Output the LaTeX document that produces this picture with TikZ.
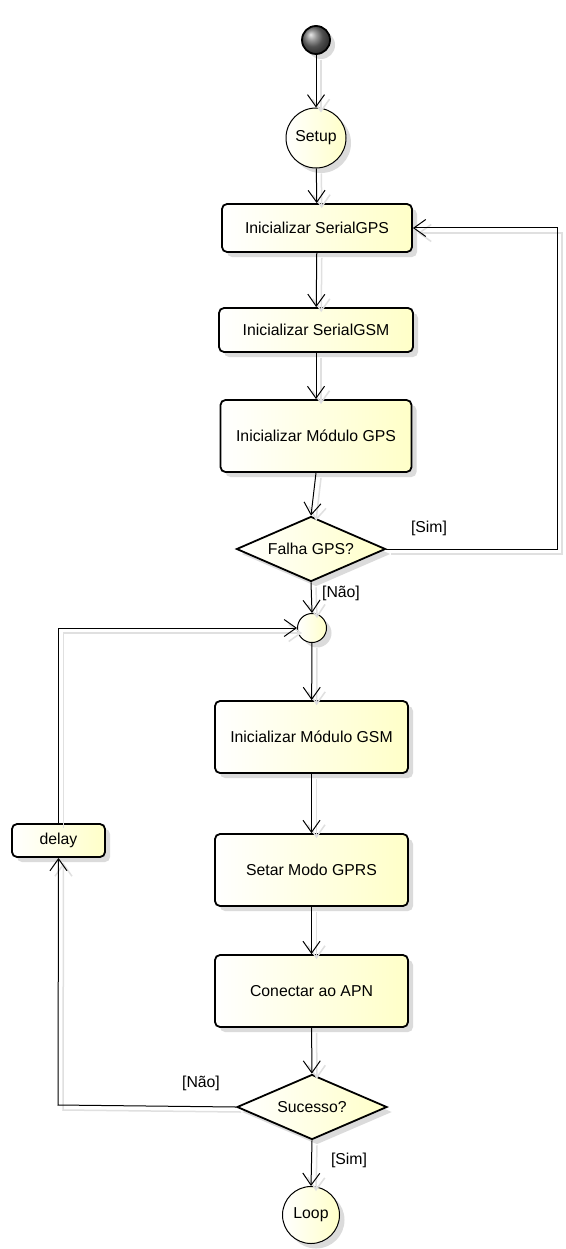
\documentclass[tikz,border=0pt]{standalone}
\usepackage{fontspec}
\setmainfont{Liberation Sans}
\usetikzlibrary{shapes.geometric,arrows.meta,shadows}
\definecolor{boxy}{RGB}{255,255,200}
\begin{document}
\begin{tikzpicture}[x=1pt,y=-1pt,
  font=\fontsize{15.8}{18}\selectfont,
  shad/.style={drop shadow={shadow xshift=5pt,shadow yshift=-5pt,fill=black!14,opacity=1}},
  filled/.style={left color=white,right color=boxy,draw=black,shad},
  act/.style={filled,rectangle,rounded corners=5pt,line width=1.8pt,inner sep=0pt},
  circ/.style={filled,circle,line width=1pt,inner sep=0pt},
  dec/.style={filled,diamond,aspect=2.3,line width=1.8pt,inner sep=0pt},
  conn/.style={line width=1pt,-{Straight Barb[length=12pt,width=17pt]},
    preaction={draw=black!12,line width=1.5pt,transform canvas={shift={(5pt,-5pt)}}}},
  lbl/.style={inner sep=1pt}]
\useasboundingbox (0,0) rectangle (565,1249);
\fill[white] (0,0) rectangle (565,1249);
% nodes
\node[circle,shading=ball,ball color=black!55,draw=black,line width=1.8pt,minimum size=28pt,inner sep=0pt,shad] (start) at (316,40) {};
\node[circ,minimum size=60pt] (setup) at (316,138) {Setup};
\node[act,minimum width=190pt,minimum height=48pt] (a1) at (317,228) {Inicializar SerialGPS};
\node[act,minimum width=194pt,minimum height=44pt] (a2) at (316,330) {Inicializar SerialGSM};
\node[act,minimum width=191pt,minimum height=72pt] (a3) at (316,436) {Inicializar Módulo GPS};
\node[dec,minimum width=149pt,minimum height=65pt] (d1) at (311,549) {Falha GPS?};
\node[circ,minimum size=29pt] (merge) at (312,628) {};
\node[act,minimum width=193pt,minimum height=72pt] (b1) at (311.5,737) {Inicializar Módulo GSM};
\node[act,minimum width=193pt,minimum height=72pt] (b2) at (311.5,870) {Setar Modo GPRS};
\node[act,minimum width=193pt,minimum height=72pt] (b3) at (311.5,991) {Conectar ao APN};
\node[dec,minimum width=150pt,minimum height=65pt] (d2) at (312,1107) {Sucesso?};
\node[circ,minimum size=57pt] (loop) at (311,1215) {Loop};
\node[act,minimum width=93pt,minimum height=33pt] (delay) at (58.5,840.5) {delay};
\coordinate (r1) at (557,549);
\coordinate (l1) at (58,1105);
% connectors
\draw[conn] (start) -- (setup);
\draw[conn] (setup) -- (a1);
\draw[conn] (a1) -- (a2);
\draw[conn] (a2) -- (a3);
\draw[conn] (a3.south) -- (d1.north);
\draw[conn] (d1.east) -- (r1) |- (a1.east);
\draw[conn] (d1.south) -- (merge.north);
\draw[conn] (merge) -- (b1);
\draw[conn] (b1) -- (b2);
\draw[conn] (b2) -- (b3);
\draw[conn] (b3) -- (d2);
\draw[conn] (d2.west) -- (l1) -- (delay.south);
\draw[conn] (delay.north) |- (merge.west);
\draw[conn] (d2.south) -- (loop.north);
% labels
\node[lbl] (lsim1) at (429,528) {[Sim]};
\node[lbl] (lnao1) at (341,593) {[Não]};
\node[lbl] (lnao2) at (201,1083) {[Não]};
\node[lbl] (lsim2) at (349,1160) {[Sim]};
\end{tikzpicture}
\end{document}
